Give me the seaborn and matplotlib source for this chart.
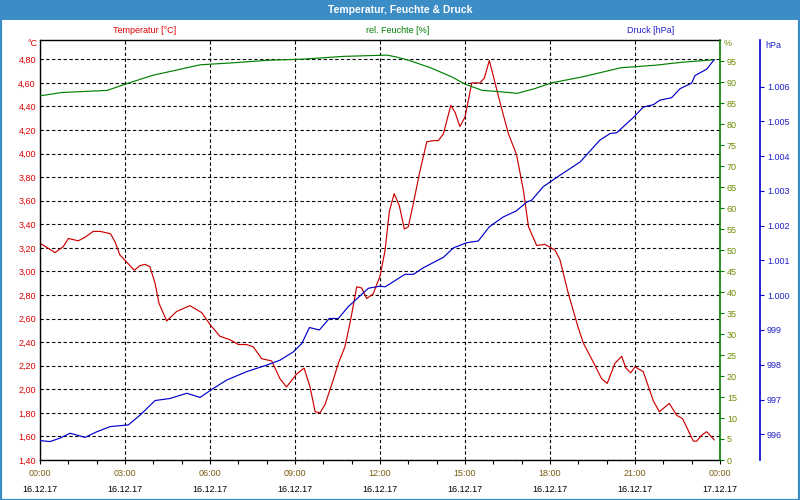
import matplotlib
matplotlib.use("Agg")
import matplotlib.pyplot as plt
from matplotlib.patches import Rectangle
from matplotlib.ticker import MultipleLocator
import seaborn as sns

# ---------------- data ----------------
temp_hours = [0.0, 0.53, 0.82, 1.0, 1.35, 1.59, 1.88, 2.12, 2.49, 2.65, 2.82, 3.33, 3.53, 3.71, 3.88,
              4.06, 4.2, 4.47, 4.82, 5.29, 5.71, 6.0, 6.35, 6.71, 7.0, 7.29, 7.53, 7.82, 8.18, 8.47,
              8.7, 9.06, 9.32, 9.53, 9.71, 9.88, 10.06, 10.35, 10.53, 10.76, 10.94, 11.18, 11.35,
              11.53, 11.76, 12.0, 12.18, 12.33, 12.5, 12.68, 12.86, 13.0, 13.18, 13.39, 13.65, 13.88,
              14.06, 14.24, 14.5, 14.65, 14.82, 15.0, 15.24, 15.53, 15.68, 15.86, 16.06, 16.24, 16.53,
              16.82, 17.06, 17.24, 17.53, 17.82, 18.18, 18.35, 18.65, 19.0, 19.18, 19.53, 19.82, 20.02,
              20.29, 20.53, 20.68, 20.85, 21.0, 21.29, 21.65, 21.86, 22.21, 22.47, 22.68, 23.06, 23.18,
              23.35, 23.53, 23.8]
temp_values = [3.24, 3.16, 3.21, 3.28, 3.26, 3.29, 3.34, 3.34, 3.32, 3.25, 3.14, 3.01, 3.05, 3.06, 3.04,
               2.90, 2.73, 2.58, 2.66, 2.71, 2.65, 2.55, 2.45, 2.42, 2.38, 2.38, 2.36, 2.26, 2.24, 2.09,
               2.02, 2.13, 2.18, 2.02, 1.81, 1.80, 1.87, 2.08, 2.22, 2.36, 2.56, 2.87, 2.86,
               2.77, 2.81, 2.96, 3.18, 3.51, 3.66, 3.56, 3.36, 3.38, 3.58, 3.83, 4.10, 4.11,
               4.11, 4.17, 4.41, 4.35, 4.23, 4.31, 4.60, 4.60, 4.64, 4.79, 4.60, 4.43, 4.17,
               3.99, 3.69, 3.38, 3.22, 3.23, 3.18, 3.10, 2.81, 2.52, 2.39, 2.23, 2.09, 2.05,
               2.22, 2.28, 2.18, 2.14, 2.19, 2.15, 1.90, 1.81, 1.88, 1.78, 1.75, 1.56, 1.56,
               1.61, 1.64, 1.57]

hum_hours = [0.0, 0.77, 2.37, 3.06, 3.98, 4.59, 5.66, 6.88, 8.11, 9.18, 10.71, 12.24, 12.55, 13.0,
             13.78, 14.54, 15.0, 15.61, 16.22, 16.84, 17.45, 18.06, 19.13, 20.51, 21.73, 22.65, 23.8]
hum_values = [86.7, 87.5, 88.0, 89.6, 91.6, 92.5, 94.1, 94.6, 95.2, 95.4, 96.1, 96.4, 96.0, 95.2,
              93.4, 91.2, 89.5, 88.0, 87.7, 87.3, 88.4, 89.8, 91.2, 93.4, 94.0, 94.7, 95.3]

pres_hours = [0.0, 0.35, 0.71, 1.06, 1.29, 1.59, 2.0, 2.47, 3.12, 3.53, 4.06, 4.59, 5.18, 5.65, 6.12,
              6.59, 7.29, 8.0, 8.47, 8.94, 9.24, 9.51, 9.86, 10.21, 10.53, 10.88, 11.59, 12.0, 12.18,
              12.88, 13.18, 13.53, 14.24, 14.59, 15.06, 15.47, 15.86, 16.35, 16.82, 17.18, 17.35,
              17.76, 18.35, 19.06, 19.76, 20.12, 20.35, 20.94, 21.29, 21.65, 21.88, 22.29, 22.59,
              23.0, 23.12, 23.53, 23.8]
pres_values = [995.82, 995.79, 995.89, 996.03, 995.98, 995.91, 996.07, 996.22, 996.27, 996.55, 996.97,
               997.03, 997.18, 997.06, 997.32, 997.56, 997.80, 997.99, 998.13, 998.37, 998.61, 999.07,
               999.00, 999.33, 999.33, 999.67, 1000.20, 1000.26, 1000.24, 1000.60, 1000.60, 1000.79,
               1001.09, 1001.36, 1001.51, 1001.56, 1001.97, 1002.25, 1002.43, 1002.68, 1002.73,
               1003.12, 1003.45, 1003.83, 1004.46, 1004.65, 1004.67, 1005.11, 1005.41, 1005.48,
               1005.61, 1005.68, 1005.94, 1006.10, 1006.32, 1006.50, 1006.78]

temp_ticks = [1.4, 1.6, 1.8, 2.0, 2.2, 2.4, 2.6, 2.8, 3.0, 3.2, 3.4, 3.6, 3.8, 4.0, 4.2, 4.4, 4.6, 4.8]
temp_ticklabels = ["1,40", "1,60", "1,80", "2,00", "2,20", "2,40", "2,60", "2,80", "3,00", "3,20",
                   "3,40", "3,60", "3,80", "4,00", "4,20", "4,40", "4,60", "4,80"]
hum_ticks = [0, 5, 10, 15, 20, 25, 30, 35, 40, 45, 50, 55, 60, 65, 70, 75, 80, 85, 90, 95]
pres_ticks = [996, 997, 998, 999, 1000, 1001, 1002, 1003, 1004, 1005, 1006]
pres_ticklabels = ["996", "997", "998", "999", "1.000", "1.001", "1.002", "1.003", "1.004", "1.005", "1.006"]
x_ticks = [0, 3, 6, 9, 12, 15, 18, 21, 24]
x_time_labels = ["00:00", "03:00", "06:00", "09:00", "12:00", "15:00", "18:00", "21:00", "00:00"]
x_date_labels = ["16.12.17"] * 8 + ["17.12.17"]

# ---------------- style ----------------
sns.set_style("white")
plt.rcParams["font.family"] = ["Liberation Sans", "DejaVu Sans"]
FS = 6.5
LW = 0.85
RED_LINE = "#cc0000"
RED_TXT = "#dd0000"
GREEN_LINE = "#008000"
GREEN_TXT = "#6e8c00"
BLUE_LINE = "#0000cc"
BLUE_TXT = "#2020c8"
FRAME = "#3c8dc6"

W, H = 800, 500
fig = plt.figure(figsize=(8, 5), dpi=100)
fig.patch.set_facecolor("white")

# title bar and frame
fig.patches.append(Rectangle((0, 1 - 20 / H), 1, 20 / H, transform=fig.transFigure,
                             facecolor=FRAME, edgecolor="none", zorder=0))
fig.patches.append(Rectangle((0.5 / W, 0.5 / H), 1 - 1.5 / W, 1 - 1.5 / H, transform=fig.transFigure,
                             facecolor="none", edgecolor=FRAME, lw=1.6, zorder=1))
fig.text(0.5, 1 - 10 / H, "Temperatur, Feuchte & Druck", color="white", fontsize=7.5,
         fontweight="bold", ha="center", va="center")

ax = fig.add_axes([40 / W, 1 - 460 / H, 680 / W, 420 / H])
ax.set_facecolor("white")

sns.lineplot(x=temp_hours, y=temp_values, ax=ax, color=RED_LINE, linewidth=LW, legend=False)
ax.set_xlim(0, 24)
ax.set_ylim(1.4, 4.964)
ax.set_yticks(temp_ticks)
ax.set_yticklabels(temp_ticklabels)
ax.set_xticks(x_ticks)
ax.set_xticklabels([""] * len(x_ticks))
ax.xaxis.set_minor_locator(MultipleLocator(1))
ax.tick_params(axis="y", which="both", length=0, pad=3, labelsize=FS, labelcolor=RED_TXT)
ax.tick_params(axis="x", which="both", direction="out", length=3, width=0.8, color="black",
               bottom=True, labelsize=FS)
ax.grid(True, which="major", color="black", linestyle=(0, (3, 2.2)), linewidth=0.8)
ax.set_axisbelow(True)
ax.set_xlabel("")
ax.set_ylabel("")
for s in ["left", "bottom", "top"]:
    ax.spines[s].set_visible(True)
    ax.spines[s].set_color("black")
    ax.spines[s].set_linewidth(1.0)
ax.spines["right"].set_visible(False)

# humidity axis
ax2 = ax.twinx()
sns.lineplot(x=hum_hours, y=hum_values, ax=ax2, color=GREEN_LINE, linewidth=LW, legend=False)
ax2.set_ylim(0, 100)
ax2.set_yticks(hum_ticks)
ax2.set_yticklabels([str(v) for v in hum_ticks])
ax2.tick_params(axis="y", direction="out", length=3, width=0.8, color=GREEN_LINE, pad=2,
                labelsize=FS, labelcolor=GREEN_TXT, right=True, left=False)
ax2.set_ylabel("")
for s in ["left", "bottom", "top"]:
    ax2.spines[s].set_visible(False)
ax2.spines["right"].set_visible(True)
ax2.spines["right"].set_color(GREEN_LINE)
ax2.spines["right"].set_linewidth(1.2)
ax2.grid(False)

# pressure axis
ax3 = ax.twinx()
sns.lineplot(x=pres_hours, y=pres_values, ax=ax3, color=BLUE_LINE, linewidth=LW, legend=False)
ax3.set_ylim(995.26, 1007.34)
ax3.set_yticks(pres_ticks)
ax3.set_yticklabels(pres_ticklabels)
ax3.spines["right"].set_position(("axes", 1 + 40 / 680))
ax3.tick_params(axis="y", direction="out", length=3, width=0.8, color=BLUE_LINE, pad=2,
                labelsize=FS, labelcolor=BLUE_TXT, right=True, left=False)
ax3.set_ylabel("")
for s in ["left", "bottom", "top"]:
    ax3.spines[s].set_visible(False)
ax3.spines["right"].set_visible(True)
ax3.spines["right"].set_color(BLUE_LINE)
ax3.spines["right"].set_linewidth(1.2)
ax3.grid(False)
ax3.set_xlim(0, 24)

# x labels (time + date)
trans = ax.get_xaxis_transform()
for xv, tl, dl in zip(x_ticks, x_time_labels, x_date_labels):
    ax.text(xv, -13.5 / 420, tl, transform=trans, ha="center", va="center", fontsize=FS,
            color="#7a5c10", clip_on=False)
    ax.text(xv, -29.5 / 420, dl, transform=trans, ha="center", va="center", fontsize=FS,
            color="black", clip_on=False)

# headers and unit labels
fig.text(145 / W, 1 - 30.5 / H, "Temperatur [°C]", color=RED_TXT, fontsize=FS, ha="center", va="center")
fig.text(398 / W, 1 - 30.5 / H, "rel. Feuchte [%]", color=GREEN_LINE, fontsize=FS, ha="center", va="center")
fig.text(651 / W, 1 - 30.5 / H, "Druck [hPa]", color=BLUE_TXT, fontsize=FS, ha="center", va="center")
fig.text(37 / W, 1 - 44 / H, "°C", color=RED_TXT, fontsize=FS, ha="right", va="center")
fig.text(724 / W, 1 - 44 / H, "%", color=GREEN_TXT, fontsize=FS, ha="left", va="center")
fig.text(765 / W, 1 - 45 / H, "hPa", color=BLUE_TXT, fontsize=FS, ha="left", va="center")

fig.savefig("out.png", dpi=100, facecolor="white")
